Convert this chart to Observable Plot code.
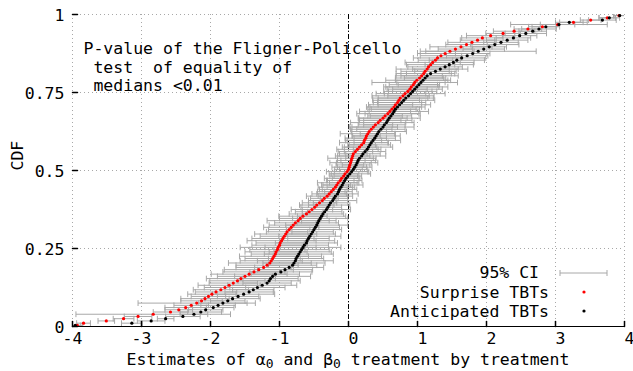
<!DOCTYPE html>
<html><head><meta charset="utf-8">
<script src="https://cdn.jsdelivr.net/npm/d3@7"></script>
<script src="https://cdn.jsdelivr.net/npm/@observablehq/plot@0.6"></script>
<style>
html,body{margin:0;padding:0;background:#fff;}
svg text{white-space:pre;}
</style></head><body><div id="chart"></div>
<script>
// Sorted treatment estimates, one per CDF step
const surpriseX = [
-3.93,-3.84,-3.51,-3.26,-3.05,-2.83,-2.58,-2.46,-2.36,-2.28,
-2.20,-2.13,-2.08,-2.03,-1.98,-1.92,-1.85,-1.79,-1.73,-1.67,
-1.61,-1.56,-1.50,-1.44,-1.37,-1.30,-1.23,-1.18,-1.14,-1.12,
-1.10,-1.08,-1.06,-1.05,-1.03,-1.02,-1.00,-0.99,-0.97,-0.95,
-0.93,-0.91,-0.89,-0.86,-0.83,-0.80,-0.77,-0.73,-0.70,-0.66,
-0.61,-0.57,-0.53,-0.49,-0.46,-0.42,-0.38,-0.35,-0.31,-0.28,
-0.25,-0.22,-0.19,-0.17,-0.15,-0.12,-0.10,-0.07,-0.05,-0.02,
-0.00,0.01,0.02,0.03,0.04,0.05,0.06,0.07,0.10,0.13,
0.16,0.19,0.22,0.23,0.25,0.26,0.28,0.30,0.33,0.36,
0.39,0.43,0.46,0.50,0.53,0.57,0.60,0.63,0.66,0.68,
0.71,0.73,0.75,0.79,0.82,0.86,0.89,0.91,0.94,0.96,
0.99,1.03,1.06,1.09,1.11,1.14,1.16,1.19,1.22,1.26,
1.29,1.34,1.40,1.47,1.55,1.63,1.71,1.79,1.87,1.94,
2.06,2.24,2.40,2.60,2.81,3.03,3.26,3.51,3.75,3.92];
const surpriseHalfCI = [
0.08,0.10,0.12,0.15,0.20,1.12,0.25,0.20,0.30,0.25,
0.85,0.30,0.35,0.25,0.35,0.30,0.40,0.30,0.45,0.35,
0.40,0.50,0.40,0.55,0.45,0.50,0.40,0.45,0.60,0.45,
0.40,0.50,0.35,0.45,0.40,0.55,0.40,0.35,0.50,0.45,
0.35,0.45,0.30,0.30,0.40,0.35,0.30,0.45,0.30,0.35,
0.25,0.20,0.30,0.20,0.25,0.25,0.20,0.20,0.30,0.25,
0.20,0.20,0.25,0.20,0.30,0.20,0.25,0.20,0.20,0.30,
0.20,0.25,0.20,0.30,0.20,0.35,0.25,0.20,0.25,0.30,
0.25,0.20,0.35,0.25,0.30,0.20,0.40,0.25,0.30,0.35,
0.25,0.40,0.30,0.35,0.25,0.45,0.30,0.35,0.40,0.25,
0.35,0.30,0.40,0.45,0.30,0.35,0.25,0.40,0.35,0.62,
0.45,0.35,0.30,0.40,0.35,0.45,0.30,0.35,0.40,0.25,
0.35,0.30,0.40,0.35,0.25,0.45,0.30,0.35,0.25,0.30,
0.35,0.25,0.30,0.20,0.20,0.25,0.20,0.15,0.12,0.08];
const anticipatedX = [
-3.96,-3.14,-2.86,-2.65,-2.40,-2.24,-2.14,-2.07,-1.96,-1.89,
-1.82,-1.75,-1.68,-1.60,-1.52,-1.44,-1.38,-1.32,-1.25,-1.18,
-1.15,-1.13,-1.10,-1.06,-0.98,-0.92,-0.86,-0.81,-0.79,-0.77,
-0.76,-0.74,-0.72,-0.70,-0.68,-0.66,-0.64,-0.61,-0.60,-0.58,
-0.56,-0.54,-0.52,-0.50,-0.48,-0.46,-0.445,-0.43,-0.41,-0.39,
-0.37,-0.345,-0.32,-0.30,-0.28,-0.26,-0.23,-0.21,-0.19,-0.16,
-0.145,-0.13,-0.11,-0.09,-0.075,-0.055,-0.035,-0.01,0.02,0.045,
0.07,0.09,0.11,0.125,0.14,0.16,0.19,0.21,0.24,0.27,
0.29,0.31,0.33,0.355,0.38,0.40,0.42,0.44,0.47,0.50,
0.52,0.55,0.57,0.59,0.615,0.64,0.66,0.68,0.71,0.74,
0.77,0.80,0.83,0.87,0.90,0.93,0.96,0.99,1.02,1.05,
1.08,1.11,1.14,1.19,1.26,1.33,1.40,1.46,1.52,1.57,
1.64,1.72,1.80,1.88,1.96,2.04,2.12,2.21,2.30,2.39,
2.48,2.57,2.67,2.76,2.86,3.05,3.20,3.68,3.78,3.93];
const anticipatedHalfCI = [
0.08,0.15,0.20,0.12,0.25,0.20,0.30,0.25,0.30,0.25,
0.35,0.25,0.40,0.30,0.45,0.35,0.30,0.40,0.50,0.35,
0.45,0.40,0.55,0.35,0.45,0.40,0.50,0.35,0.45,0.55,
0.40,0.35,0.50,0.45,0.40,0.55,0.35,0.45,0.40,0.30,
0.45,0.35,0.30,0.40,0.35,0.45,0.30,0.25,0.40,0.35,
0.30,0.25,0.35,0.20,0.30,0.25,0.35,0.20,0.25,0.30,
0.20,0.25,0.20,0.30,0.20,0.25,0.20,0.20,0.30,0.25,
0.20,0.25,0.20,0.30,0.25,0.20,0.35,0.25,0.30,0.20,
0.35,0.30,0.25,0.40,0.30,0.35,0.25,0.40,0.35,0.45,
0.30,0.40,0.35,0.45,0.30,0.40,0.50,0.35,0.40,0.45,
0.35,0.45,0.40,0.30,0.50,0.35,0.40,0.45,0.30,0.35,
0.40,0.30,0.45,0.35,0.30,0.40,0.25,0.35,0.30,0.40,
0.35,0.30,0.25,0.84,0.30,0.25,0.35,0.25,0.30,0.25,
0.25,0.30,0.20,0.25,0.20,0.70,0.20,0.20,0.15,0.08];

const xTicks = [-4,-3,-2,-1,0,1,2,3,4];
const xTickLabels = ["-4","-3","-2","-1"," 0"," 1"," 2"," 3"," 4"];
const yTicks = [0,0.25,0.5,0.75,1];
const yTickLabels = ["0","0.25","0.5","0.75","1"];
const annotationLines = ["P-value of the Fligner-Policello", " test  of equality of", " medians <0.01"];
const legendLabels = ["95% CI ", "Surprise TBTs", "Anticipated TBTs"];
const yTitle = "CDF";

function ecdf(xs, half) {
  const n = xs.length;
  return xs.map((x, i) => ({x, y: (i + 0.5) / n, lo: x - half[i], hi: x + half[i]}));
}
const surprise = ecdf(surpriseX, surpriseHalfCI);
const anticipated = ecdf(anticipatedX, anticipatedHalfCI);
const allPts = surprise.concat(anticipated);

const font = "DejaVu Sans Mono";
const gray = "#a8a8a8";
const gridColor = "#a8a8a8";
const tickShape = {draw(ctx, l) { ctx.moveTo(0, 0); ctx.lineTo(0, -l); }};
const capShape = {draw(ctx, l) { ctx.moveTo(0, -l); ctx.lineTo(0, l); }};

const W = 633, H = 371, mL = 72, mR = 9, mT = 14, mB = 45;

const plot = Plot.plot({
  width: W, height: H,
  marginLeft: mL, marginRight: mR, marginTop: mT, marginBottom: mB,
  x: {domain: [-4, 4], axis: null},
  y: {domain: [0, 1], axis: null},
  style: {fontFamily: font, fontSize: "16.5px", background: "white", color: "black", overflow: "visible"},
  marks: [
    Plot.gridX(xTicks, {stroke: gridColor, strokeOpacity: 1, strokeDasharray: "1,3"}),
    Plot.gridY(yTicks, {stroke: gridColor, strokeOpacity: 1, strokeDasharray: "1,3"}),
    Plot.ruleX([0], {stroke: "black", strokeWidth: 1, strokeDasharray: "5,2,1,2"}),
    // 95% CI error bars
    Plot.link(allPts, {x1: "lo", x2: "hi", y1: "y", y2: "y", stroke: gray, strokeWidth: 1, clip: true}),
    Plot.vector(allPts, {x: "lo", y: "y", length: 2.5, anchor: "start", shape: capShape, stroke: gray, strokeWidth: 1, clip: true}),
    Plot.vector(allPts, {x: "hi", y: "y", length: 2.5, anchor: "start", shape: capShape, stroke: gray, strokeWidth: 1, clip: true}),
    // points
    Plot.dot(surprise, {x: "x", y: "y", r: 1.6, fill: "red", stroke: "none"}),
    Plot.dot(anticipated, {x: "x", y: "y", r: 1.6, fill: "black", stroke: "none"}),
    // bottom border
    Plot.ruleY([0], {stroke: "black", strokeWidth: 1}),
    // inward ticks
    Plot.vector(xTicks, {x: d => d, frameAnchor: "bottom", length: 5, anchor: "start", shape: tickShape, stroke: "black"}),
    Plot.vector(yTicks, {y: d => d, frameAnchor: "left", length: 5, rotate: 90, anchor: "start", shape: tickShape, stroke: "black"}),
    // tick labels
    Plot.text(xTicks, {x: d => d, frameAnchor: "bottom", dy: 17, text: (d, i) => xTickLabels[i], textAnchor: "middle", fill: "black"}),
    Plot.text(yTicks, {y: d => d, frameAnchor: "left", dx: -8, dy: 1.5, text: (d, i) => yTickLabels[i], textAnchor: "end", fill: "black"}),
    // y title
    Plot.text([yTitle], {frameAnchor: "left", dx: -55, rotate: -90, text: d => d, fill: "black"}),
    // annotation
    Plot.text([annotationLines.join("\n")], {frameAnchor: "top-left", dx: 11, dy: 52, text: d => d, textAnchor: "start", lineAnchor: "middle", lineHeight: 1.136, fill: "black"})
  ]
});

const frameRight = W - mR, frameBottom = H - mB;
const svg = d3.select(plot);
const legendRows = [frameBottom - 53, frameBottom - 33, frameBottom - 14];
const lg = svg.append("g").attr("font-family", font).attr("font-size", "16.5px");
legendLabels.forEach((lab, i) => {
  lg.append("text").attr("x", frameRight - 75).attr("y", legendRows[i]).attr("dy", "0.32em")
    .attr("text-anchor", "end").attr("fill", "black").style("white-space", "pre").text(lab);
});
lg.append("path").attr("d", `M${frameRight-64},${legendRows[0]}H${frameRight-17}M${frameRight-64},${legendRows[0]-3}V${legendRows[0]+3}M${frameRight-17},${legendRows[0]-3}V${legendRows[0]+3}`)
  .attr("stroke", gray).attr("fill", "none");
lg.append("circle").attr("cx", frameRight - 40).attr("cy", legendRows[1] - 1).attr("r", 1.6).attr("fill", "red");
lg.append("circle").attr("cx", frameRight - 40).attr("cy", legendRows[2] - 1).attr("r", 1.6).attr("fill", "black");

// x-axis title with subscripts
const xt = svg.append("text").attr("x", (mL + W - mR) / 2).attr("y", 365)
  .attr("text-anchor", "middle").attr("font-family", font).attr("font-size", "16.5px").attr("fill", "black");
xt.append("tspan").text("Estimates of α");
xt.append("tspan").attr("dy", 3).attr("font-size", "13px").text("0");
xt.append("tspan").attr("dy", -3).text(" and β");
xt.append("tspan").attr("dy", 3).attr("font-size", "13px").text("0");
xt.append("tspan").attr("dy", -3).text(" treatment by treatment");

document.getElementById("chart").appendChild(plot);
</script></body></html>
